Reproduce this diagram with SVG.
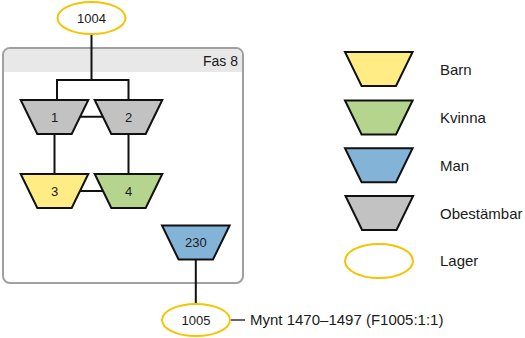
<svg xmlns="http://www.w3.org/2000/svg" width="525" height="338" viewBox="0 0 525 338">
<style>
.t{font-family:"Liberation Sans",Arial,sans-serif;fill:#1a1a1a}
.n{font-size:13px;text-anchor:middle}
.l{font-size:15px}
.tr{stroke:#111;stroke-width:2;stroke-linejoin:miter}
.el{fill:#fff;stroke:#F5C400;stroke-width:2}
.c{stroke:#111;stroke-width:2;fill:none}
.barn{fill:#FFEC84}.kv{fill:#B5D58F}.man{fill:#84B3D8}.ob{fill:#C2C2C2}
</style>
<defs>
<path id="trap" d="M0,0 H67.6 L51,34 H16.6 Z"/>
</defs>
<g id="frame">
<rect x="3" y="48" width="240" height="235" rx="7" fill="#fff" stroke="#A0A0A0" stroke-width="2"/>
<path d="M4,72 V55 a6,6 0 0 1 6,-6 H236 a6,6 0 0 1 6,6 V72 Z" fill="#E8E8E8"/>
<text class="t" x="238" y="65.5" font-size="14" text-anchor="end">Fas 8</text>
</g>
<g id="connectors">
<path class="c" d="M91.5,34 V80 M57,80 H128.5 M57,79 V100 M128.5,79 V100"/>
<path class="c" d="M72,116.7 H110"/>
<path class="c" d="M54.5,134 V174 M128.5,134 V174"/>
<path class="c" d="M72,191 H110"/>
<path class="c" d="M195.8,259 V304"/>
<path d="M231,320 H245" stroke="#333" stroke-width="1.5"/>
</g>
<g id="n1004"><ellipse class="el" cx="91.5" cy="18" rx="34" ry="16"/><text class="t n" x="91.5" y="22.6">1004</text></g>
<g id="n1"><use href="#trap" x="20.7" y="100" class="tr ob"/><text class="t n" x="54.5" y="121.6">1</text></g>
<g id="n2"><use href="#trap" x="94.7" y="100" class="tr ob"/><text class="t n" x="128.5" y="121.6">2</text></g>
<g id="n3"><use href="#trap" x="20.7" y="174" class="tr barn"/><text class="t n" x="54.5" y="195.6">3</text></g>
<g id="n4"><use href="#trap" x="94.7" y="174" class="tr kv"/><text class="t n" x="128.5" y="195.6">4</text></g>
<g id="n230"><use href="#trap" x="162" y="225.5" class="tr man"/><text class="t n" x="195.8" y="247.1">230</text></g>
<g id="n1005"><ellipse class="el" cx="196" cy="320" rx="34" ry="16"/><text class="t n" x="196" y="324.6">1005</text></g>
<g id="note"><text class="t l" x="250" y="325.4">Mynt 1470–1497 (F1005:1:1)</text></g>
<g id="legend">
<use href="#trap" x="345" y="52" class="tr barn"/><text class="t l" x="440" y="74.5">Barn</text>
<use href="#trap" x="345" y="100.5" class="tr kv"/><text class="t l" x="440" y="122.5">Kvinna</text>
<use href="#trap" x="345" y="148.3" class="tr man"/><text class="t l" x="440" y="170.5">Man</text>
<use href="#trap" x="345.5" y="196" class="tr ob"/><text class="t l" x="440" y="218.5">Obestämbar</text>
<ellipse class="el" cx="379" cy="261" rx="34" ry="17"/><text class="t l" x="440" y="266.4">Lager</text>
</g>
</svg>
